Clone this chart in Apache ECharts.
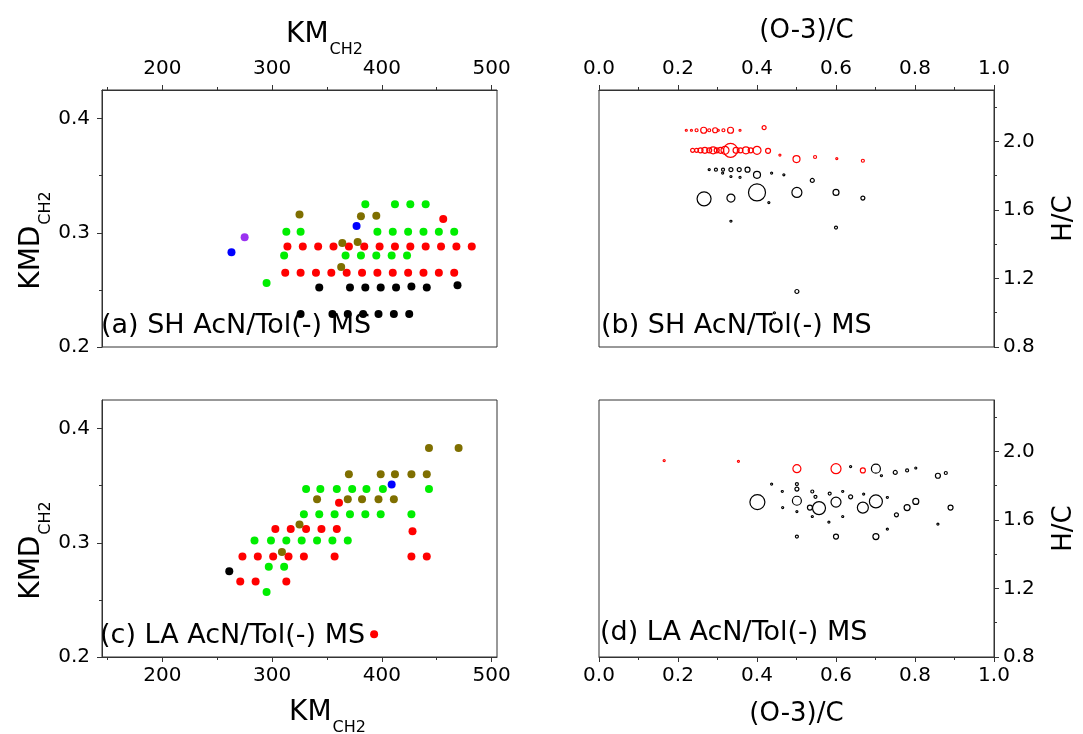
<!DOCTYPE html>
<html>
<head>
<meta charset="utf-8">
<script src="https://cdn.jsdelivr.net/npm/echarts@6/dist/echarts.min.js"></script>
<style>
  html, body { margin: 0; padding: 0; background: #fff; }
  #chart { width: 1083px; height: 734px; }
</style>
</head>
<body>
<div id="chart"></div>
<script>
// tick values
const kmMajor = [200, 300, 400, 500];
const kmMinor = [150, 250, 350, 450];
const kmdMajor = [0.2, 0.3, 0.4];
const kmdMinor = [0.25, 0.35];
const ocMajor = [0, 0.2, 0.4, 0.6, 0.8, 1.0];
const ocMinor = [0.1, 0.3, 0.5, 0.7, 0.9];
const hcMajor = [0.8, 1.2, 1.6, 2.0];
const hcMinor = [1.0, 1.4, 1.8, 2.2];

// (a) SH  [KM, KMD]
const aRed = [
  [314,0.288],[328,0.288],[342,0.288],[356,0.288],[370,0.288],[384,0.288],[398,0.288],
  [412,0.288],[426,0.288],[440,0.288],[454,0.288],[468,0.288],[482,0.288],
  [312,0.265],[326,0.265],[340,0.265],[354,0.265],[368,0.265],[382,0.265],[396,0.265],
  [410,0.265],[424,0.265],[438,0.265],[452,0.265],[466,0.265],
  [456,0.312]
];
const aGreen = [
  [385,0.325],[412,0.325],[426,0.325],[440,0.325],
  [313,0.301],[326,0.301],[396,0.301],[410,0.301],[424,0.301],[438,0.301],[452,0.301],[466,0.301],
  [311,0.280],[367,0.280],[381,0.280],[395,0.280],[409,0.280],[423,0.280],
  [295,0.256]
];
const aOlive = [[325,0.316],[381,0.3145],[395,0.315],[364,0.291],[378,0.292],[363,0.270]];
const aBlue = [[263,0.283],[377,0.306]];
const aPurple = [[275,0.296]];
const aBlack = [
  [343,0.252],[371,0.252],[385,0.252],[399,0.252],[413,0.252],[427,0.253],[441,0.252],[469,0.254],
  [326,0.229],[355,0.229],[369,0.229],[383,0.229],[397,0.229],[411,0.229],[425,0.229]
];

// (c) LA  [KM, KMD]
const cOlive = [
  [443,0.383],[470,0.383],
  [370,0.360],[399,0.360],[412,0.360],[427,0.360],[441,0.360],
  [341,0.338],[369,0.338],[382,0.338],[397,0.338],[411,0.338],
  [325,0.316],[309,0.292]
];
const cBlue = [[409,0.351]];
const cGreen = [
  [331,0.347],[344,0.347],[359,0.347],[373,0.347],[386,0.347],[401,0.347],[443,0.347],
  [329,0.325],[343,0.325],[357,0.325],[371,0.325],[385,0.325],[399,0.325],[427,0.325],
  [284,0.302],[299,0.302],[313,0.302],[327,0.302],[341,0.302],[355,0.302],[369,0.302],
  [297,0.279],[311,0.279],
  [295,0.257]
];
const cRed = [
  [361,0.335],
  [303,0.312],[317,0.312],[331,0.312],[345,0.312],[359,0.312],[428,0.310],
  [273,0.288],[287,0.288],[301,0.288],[315,0.288],[329,0.288],[357,0.288],[427,0.288],[441,0.288],
  [271,0.266],[285,0.266],[313,0.266],
  [393,0.220]
];
const cBlack = [[261,0.275]];

// (b) SH  [(O-3)/C, H/C, relative intensity]
const bRed = [
  [0.221,2.065,2],[0.234,2.065,2],[0.247,2.065,3],[0.265,2.065,6],[0.279,2.065,3],[0.294,2.065,5],
  [0.302,2.065,2],[0.315,2.065,3],[0.333,2.065,6],[0.357,2.065,2],[0.418,2.08,4],
  [0.237,1.948,4],[0.247,1.948,4],[0.257,1.948,5],[0.268,1.948,6],[0.279,1.948,5],[0.289,1.948,7],
  [0.298,1.948,5],[0.308,1.948,6],[0.319,1.948,8],[0.333,1.948,14],[0.347,1.948,6],[0.358,1.948,5],
  [0.372,1.948,7],[0.384,1.948,5],[0.40,1.948,8],[0.428,1.945,5],
  [0.458,1.92,2],[0.50,1.897,7],[0.547,1.909,3],[0.602,1.899,2],[0.668,1.887,3]
];
const bBlack = [
  [0.279,1.835,2],[0.296,1.835,3],[0.314,1.835,3],[0.334,1.835,4],[0.355,1.835,4],[0.376,1.835,5],
  [0.40,1.805,7],[0.437,1.815,2],[0.468,1.805,2],
  [0.313,1.815,2],[0.334,1.795,2],[0.357,1.79,2],
  [0.54,1.772,4],
  [0.266,1.665,14],[0.334,1.669,8],[0.40,1.702,17],[0.43,1.643,2],[0.501,1.702,10],[0.60,1.702,6],[0.668,1.669,4],
  [0.334,1.534,2],[0.60,1.497,3],[0.501,1.124,4],[0.444,0.999,2]
];

// (d) LA  [(O-3)/C, H/C, relative intensity]
const dRed = [[0.165,1.946,2],[0.353,1.942,2],[0.501,1.899,8],[0.60,1.899,10],[0.668,1.889,5]];
const dBlack = [
  [0.637,1.911,2],[0.701,1.899,9],[0.715,1.858,2],[0.75,1.877,4],[0.78,1.889,3],[0.802,1.903,2],
  [0.858,1.858,5],[0.878,1.874,3],
  [0.437,1.809,2],[0.464,1.766,2],[0.501,1.809,3],[0.501,1.78,4],[0.54,1.766,3],[0.617,1.766,2],
  [0.584,1.754,3],[0.548,1.735,3],[0.637,1.735,4],[0.67,1.751,2],[0.73,1.731,2],
  [0.401,1.704,15],[0.501,1.712,9],[0.534,1.672,5],[0.557,1.669,13],[0.60,1.704,10],[0.668,1.672,11],
  [0.701,1.708,13],[0.802,1.708,6],[0.78,1.672,6],[0.753,1.63,4],[0.89,1.672,5],
  [0.465,1.672,2],[0.501,1.649,2],[0.54,1.62,2],[0.617,1.62,2],[0.582,1.587,2],[0.858,1.575,2],[0.73,1.546,2],
  [0.501,1.503,3],[0.60,1.503,5],[0.701,1.503,6]
];

const FONT = 'DejaVu Sans';
const AXIS_COLOR = '#333';

const subRich = {
  a: { fontSize: 28, lineHeight: 28, verticalAlign: 'top', fontFamily: FONT, color: '#000' },
  b: { fontSize: 16, lineHeight: 16, padding: [21, 0, 0, 1], verticalAlign: 'top', fontFamily: FONT, color: '#000' }
};

function fmt1(v) { return Number(v).toFixed(1); }

// major axis (line, long ticks, labels) + minor axis (short ticks only)
function axisPair(grid, pos, min, max, majors, minors, labelFmt, margin, name) {
  const major = {
    type: 'value', gridIndex: grid, position: pos, min: min, max: max,
    axisLine: { show: true, onZero: false, lineStyle: { color: AXIS_COLOR, width: 1 } },
    axisTick: { show: true, inside: false, length: 5, customValues: majors, lineStyle: { color: AXIS_COLOR } },
    axisLabel: { show: true, customValues: majors, formatter: labelFmt, margin: margin,
      fontSize: 20, fontFamily: FONT, color: '#000' },
    splitLine: { show: false }
  };
  if (name) Object.assign(major, name);
  const minor = {
    type: 'value', gridIndex: grid, position: pos, min: min, max: max,
    axisLine: { show: false, onZero: false },
    axisTick: { show: true, inside: false, length: 3, customValues: minors, lineStyle: { color: AXIS_COLOR } },
    axisLabel: { show: false },
    splitLine: { show: false }
  };
  return [major, minor];
}

const kmName = (gap, pad) => ({
  name: '{a|KM}{b|CH2}', nameLocation: 'middle', nameGap: gap,
  nameTextStyle: { rich: subRich, padding: pad }
});
const kmdName = {
  name: '{a|KMD}{b|CH2}', nameLocation: 'middle', nameGap: 47,
  nameTextStyle: { rich: subRich, padding: [0, 44, 0, 0] }
};
const ocName = (gap, pad) => ({
  name: '(O-3)/C', nameLocation: 'middle', nameGap: gap,
  nameTextStyle: { fontSize: 26, fontFamily: FONT, color: '#000', padding: pad }
});
const hcName = {
  name: 'H/C', nameLocation: 'middle', nameGap: 57,
  nameTextStyle: { fontSize: 26, fontFamily: FONT, color: '#000' }
};
const kmFmt = v => String(Math.round(v));

const xAxes = [].concat(
  axisPair(0, 'top', 145, 505, kmMajor, kmMinor, kmFmt, 11, kmName(39, [0, 0, 0, 50])),
  axisPair(1, 'top', 0, 1, ocMajor, ocMinor, fmt1, 11, ocName(46, [0, 0, 0, 20])),
  axisPair(2, 'bottom', 145, 505, kmMajor, kmMinor, kmFmt, 9, kmName(42, [0, 0, 0, 56])),
  axisPair(3, 'bottom', 0, 1, ocMajor, ocMinor, fmt1, 9, ocName(44, 0))
);
const yAxes = [].concat(
  axisPair(0, 'left', 0.2, 0.425, kmdMajor, kmdMinor, fmt1, 12, kmdName),
  axisPair(1, 'right', 0.8, 2.3, hcMajor, hcMinor, fmt1, 9, hcName),
  axisPair(2, 'left', 0.2, 0.425, kmdMajor, kmdMinor, fmt1, 12, kmdName),
  axisPair(3, 'right', 0.8, 2.3, hcMajor, hcMinor, fmt1, 9, hcName)
);

function dots(panel, data, color) {
  return {
    type: 'scatter', xAxisIndex: panel * 2, yAxisIndex: panel * 2,
    data: data, symbol: 'circle', symbolSize: 8,
    itemStyle: { color: color, opacity: 1 }, silent: true
  };
}
function rings(panel, data, color) {
  return {
    type: 'scatter', xAxisIndex: panel * 2, yAxisIndex: panel * 2,
    data: data, symbol: 'circle', symbolSize: d => d[2],
    itemStyle: { color: 'rgba(0,0,0,0)', borderColor: color, borderWidth: 1.2, opacity: 1 }, silent: true
  };
}

const gridBox = (left, top) => ({
  left: left, top: top, width: 395, height: 257, show: true,
  borderColor: AXIS_COLOR, borderWidth: 1, outerBoundsMode: 'none'
});

const labelStyle = { fontSize: 27, fontWeight: 'normal', fontFamily: FONT, color: '#000', lineHeight: 27 };

const chart = echarts.init(document.getElementById('chart'));
chart.setOption({
  animation: false,
  backgroundColor: '#fff',
  title: [
    { text: '(a) SH AcN/Tol(-) MS', left: 101, top: 312, padding: 0, textStyle: labelStyle },
    { text: '(b) SH AcN/Tol(-) MS', left: 601, top: 312, padding: 0, textStyle: labelStyle },
    { text: '(c) LA AcN/Tol(-) MS', left: 100, top: 622, padding: 0, textStyle: labelStyle },
    { text: '(d) LA AcN/Tol(-) MS', left: 600, top: 619, padding: 0, textStyle: labelStyle }
  ],
  grid: [gridBox(102, 90), gridBox(599, 90), gridBox(102, 400), gridBox(599, 400)],
  xAxis: xAxes,
  yAxis: yAxes,
  series: [
    dots(0, aRed, '#ff0000'),
    dots(0, aGreen, '#00ee00'),
    dots(0, aBlack, '#000000'),
    dots(0, aOlive, '#7f6f00'),
    dots(0, aBlue, '#0000ff'),
    dots(0, aPurple, '#9a32f0'),
    rings(1, bRed, '#ff0000'),
    rings(1, bBlack, '#000000'),
    dots(2, cRed, '#ff0000'),
    dots(2, cGreen, '#00ee00'),
    dots(2, cOlive, '#7f6f00'),
    dots(2, cBlue, '#0000ff'),
    dots(2, cBlack, '#000000'),
    rings(3, dRed, '#ff0000'),
    rings(3, dBlack, '#000000')
  ]
});
window.addEventListener('resize', () => chart.resize());
</script>
</body>
</html>
